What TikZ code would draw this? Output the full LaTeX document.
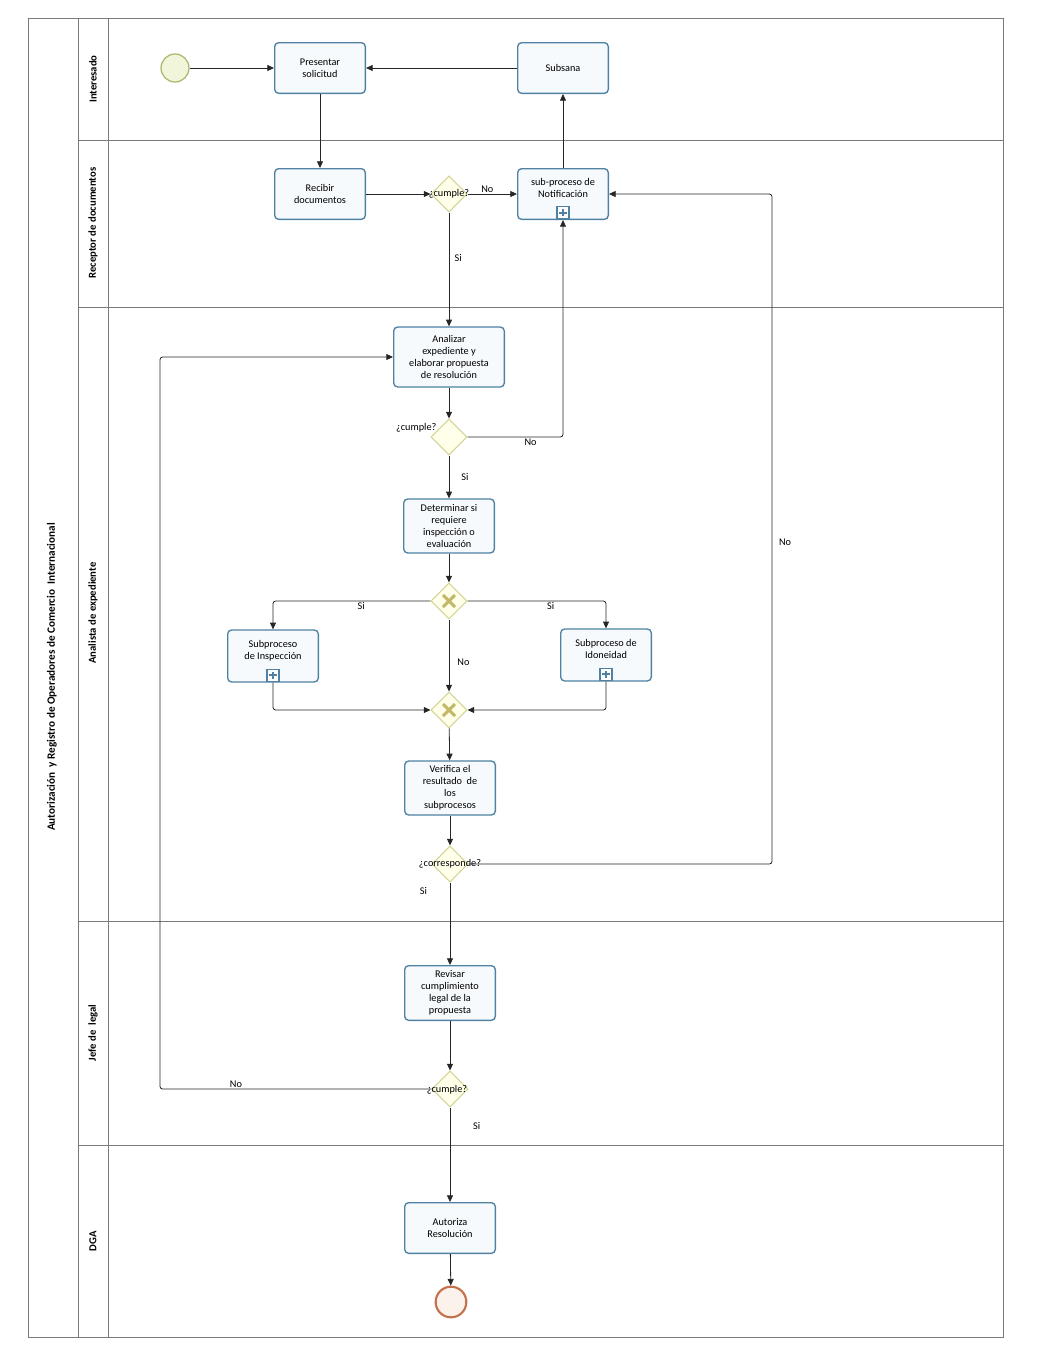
\documentclass[tikz,border=0pt]{standalone}
\usepackage{fontspec}
\setmainfont{Carlito}
\usetikzlibrary{arrows.meta, shapes.geometric}
\definecolor{taskline}{HTML}{4F81A3}
\definecolor{taskfill}{HTML}{F6FAFD}
\definecolor{gwline}{HTML}{D3D396}
\definecolor{gwfill}{HTML}{FFFFEA}
\definecolor{gwx}{HTML}{C2B866}
\definecolor{startline}{HTML}{A5B56A}
\definecolor{startfill}{HTML}{F1F5DA}
\definecolor{endline}{HTML}{C4724C}
\definecolor{endfill}{HTML}{FBF2EC}
\definecolor{laneline}{HTML}{7A7A7A}

\begin{document}
\begin{tikzpicture}[x=0.75pt, y=-0.75pt,
    task/.style={draw=taskline, fill=taskfill, line width=1pt, rounded corners=3pt, minimum width=68pt, minimum height=38pt, align=center, font=\fontsize{7.7}{9}\selectfont, inner sep=1pt},
    subp/.style={task, path picture={
        \coordinate (pb) at ([yshift=5pt]path picture bounding box.south);
        \draw[taskline, fill=white, line width=0.8pt, sharp corners] (pb) +(-4.5pt,-4.5pt) rectangle +(4.5pt,4.5pt);
        \draw[taskline, line width=1.3pt, sharp corners] (pb) +(-2.8pt,0) -- +(2.8pt,0) (pb) +(0,-2.8pt) -- +(0,2.8pt);}},
    gw/.style={diamond, draw=gwline, fill=gwfill, line width=0.8pt, minimum width=27pt, minimum height=27pt, inner sep=0pt},
    xgw/.style={gw, path picture={
        \draw[gwx, line width=2.2pt] (path picture bounding box.center) +(-4.5pt,-4.5pt) -- +(4.5pt,4.5pt) (path picture bounding box.center) +(-4.5pt,4.5pt) -- +(4.5pt,-4.5pt);}},
    flow/.style={draw=black!85, line width=0.6pt, rounded corners=2pt, -{Triangle[length=5pt, width=4.5pt]}},
    lbl/.style={font=\fontsize{7.7}{9}\selectfont, inner sep=1pt},
    lane/.style={draw=laneline, line width=0.5pt},
    lanename/.style={rotate=90, font=\bfseries\fontsize{8}{9}\selectfont}]
    \useasboundingbox (0,0) rectangle (1048,1364);
    \draw[lane] (28,18) rectangle (1003,1337);
    \draw[lane] (78,18) -- (78,1337);
    \draw[lane] (108,18) -- (108,1337);
    \foreach \y in {140,307,921,1145}
        \draw[lane] (78,\y) -- (1003,\y);
    \node[lanename, font=\bfseries\fontsize{8.4}{10}\selectfont] (pool) at (52,677) {Autorización \ y Registro de Operadores de Comercio \ Internacional};
    \node[lanename] (l1) at (93,79) {Interesado};
    \node[lanename] (l2) at (93,223) {Receptor de documentos};
    \node[lanename] (l3) at (93,613) {Analista de expediente};
    \node[lanename] (l4) at (93,1033) {Jefe de \ legal};
    \node[lanename] (l5) at (93,1241) {DGA};

    \node[circle, draw=startline, fill=startfill, line width=0.9pt, minimum size=21pt] (start) at (175,68) {};
    \node[task] (pres) at (320,68) {Presentar\\solicitud};
    \node[task] (subs) at (563,68) {Subsana};
    \node[task] (recib) at (320,194) {Recibir\\documentos};
    \node[gw] (g1) at (449,194) {};
    \node[subp] (notif) at (563,194) {sub-proceso de\\Notificación\\\mbox{}};
    \node[task, minimum width=83pt, minimum height=45pt] (anal) at (449,357) {Analizar\\expediente y\\elaborar propuesta\\de resolución};
    \node[gw] (g2) at (449,437) {};
    \node[task, minimum height=40.5pt] (det) at (449,526) {Determinar si\\requiere\\inspección o\\evaluación};
    \node[xgw] (x1) at (449,601) {};
    \node[subp, minimum height=39pt] (insp) at (273,656) {Subproceso\\de Inspección\\\mbox{}};
    \node[subp, minimum height=39pt] (idon) at (606,655) {Subproceso de\\Idoneidad\\\mbox{}};
    \node[xgw] (x2) at (449,710) {};
    \node[task, minimum height=40.5pt] (verif) at (450,788) {Verifica el\\resultado \ de\\los\\subprocesos};
    \node[gw] (g3) at (450,864) {};
    \coordinate (c3) at (772,864);
    \node[task, minimum height=41pt] (rev) at (450,993) {Revisar\\cumplimiento\\legal de la\\propuesta};
    \node[gw] (g4) at (450,1089) {};
    \coordinate (c4) at (160,357);
    \node[task] (aut) at (450,1228) {Autoriza\\Resolución};
    \node[circle, draw=endline, fill=endfill, line width=1.6pt, minimum size=23pt] (end) at (451,1302) {};

    \node[lbl] (t1) at (449,194) {¿cumple?};
    \node[lbl, anchor=east] (t2) at (438,428) {¿cumple?};
    \node[lbl] (t3) at (450,864) {¿corresponde?};
    \node[lbl] (t4) at (447,1090) {¿cumple?};

    \draw[flow] (start) -- (pres);
    \draw[flow] (subs) -- (pres);
    \draw[flow] (pres) -- (recib);
    \draw[flow] (recib) -- (g1);
    \draw[flow] (g1) -- node[lbl, above, pos=0.4] {No} (notif);
    \draw[flow] (notif) -- (subs);
    \draw[flow] (g1) -- node[lbl, right, pos=0.4, xshift=3pt] {Si} (anal);
    \draw[flow] (anal) -- (g2);
    \draw[flow] (g2) -| node[lbl, below, pos=0.33] {No} (notif);
    \draw[flow] (g2) -- node[lbl, right, xshift=8pt] {Si} (det);
    \draw[flow] (det) -- (x1);
    \draw[flow] (x1) -| node[lbl, below, pos=0.22] {Si} (insp);
    \draw[flow] (x1) -| node[lbl, below, pos=0.3] {Si} (idon);
    \draw[flow] (x1) -- node[lbl, right, pos=0.6, xshift=5pt] {No} (x2);
    \draw[flow] (insp) |- (x2);
    \draw[flow] (idon) |- (x2);
    \draw[flow] (x2) -- (verif);
    \draw[flow] (verif) -- (g3);
    \draw[flow] (g3) -- (c3) |- node[lbl, right, pos=0.24, xshift=4pt] {No} (notif);
    \draw[flow] (g3) -- node[lbl, left, pos=0.1, xshift=-16pt] {Si} (rev);
    \draw[flow] (rev) -- (g4);
    \draw[flow] (g4) -| node[lbl, above, pos=0.36] {No} (c4) -- (anal);
    \draw[flow] (g4) -- node[lbl, right, pos=0.2, xshift=16pt] {Si} (aut);
    \draw[flow] (aut) -- (end);
\end{tikzpicture}
\end{document}
